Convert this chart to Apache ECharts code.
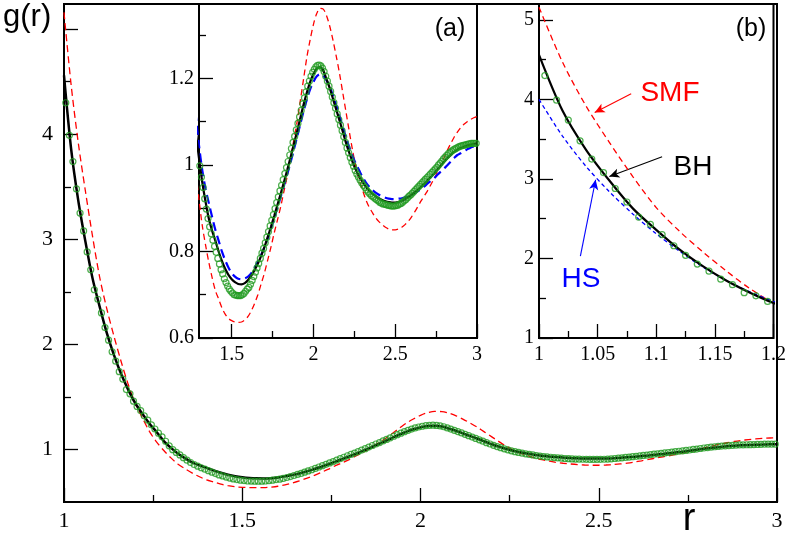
<!DOCTYPE html>
<html>
<head>
<meta charset="utf-8">
<script src="https://cdn.jsdelivr.net/npm/echarts@6/dist/echarts.min.js"></script>
<title>g(r)</title>
<style>html,body{margin:0;padding:0;background:#fff}</style>
</head>
<body>
<div id="chart" style="width:789px;height:535px;"></div>
<script>
// r grid of the curves (step 0.02) and of the simulation points (step 0.01)
var rLine = [];
for (var i = 0; i <= 100; i++) rLine.push(+(1 + i * 0.02).toFixed(2));
var rDots = [];
for (var j = 0; j < 200; j++) rDots.push(+(1.005 + j * 0.01).toFixed(3));

// BH (black solid)
var gBH = [4.56,3.86,3.37,2.98,2.63,2.36,2.11,1.90,1.72,1.57,
  1.44,1.34,1.245,1.165,1.08,1.015,0.96,0.915,0.876,0.848,
  0.825,0.80,0.778,0.76,0.746,0.736,0.729,0.725,0.724,0.727,
  0.734,0.744,0.757,0.772,0.79,0.81,0.833,0.857,0.882,0.908,
  0.934,0.961,0.989,1.018,1.048,1.078,1.109,1.14,1.168,1.192,
  1.21,1.223,1.226,1.218,1.198,1.177,1.152,1.127,1.102,1.076,
  1.05,1.027,1.006,0.988,0.973,0.961,0.95,0.941,0.934,0.928,
  0.923,0.919,0.916,0.914,0.913,0.913,0.914,0.917,0.921,0.926,
  0.931,0.937,0.943,0.95,0.957,0.965,0.973,0.981,0.99,0.999,
  1.008,1.016,1.023,1.03,1.035,1.039,1.042,1.045,1.047,1.049,
  1.05];
// SMF (red dashed)
var gSMF = [5.16,4.47,3.92,3.46,3.03,2.64,2.34,2.08,1.84,1.62,
  1.44,1.30,1.17,1.07,0.99,0.92,0.86,0.815,0.775,0.74,
  0.71,0.69,0.67,0.655,0.645,0.64,0.637,0.636,0.637,0.642,
  0.65,0.663,0.68,0.70,0.725,0.75,0.78,0.81,0.843,0.873,
  0.904,0.94,0.975,1.015,1.058,1.10,1.15,1.20,1.25,1.29,
  1.325,1.35,1.362,1.36,1.345,1.32,1.287,1.25,1.21,1.165,
  1.12,1.075,1.032,0.995,0.965,0.942,0.92,0.903,0.89,0.878,
  0.869,0.862,0.856,0.852,0.85,0.85,0.852,0.856,0.862,0.87,
  0.88,0.892,0.905,0.918,0.93,0.942,0.956,0.97,0.985,1.0,
  1.018,1.035,1.05,1.064,1.076,1.086,1.094,1.10,1.105,1.109,
  1.112];
// HS (blue dashed)
var gHS = [4.00,3.54,3.16,2.84,2.56,2.31,2.09,1.89,1.72,1.58,
  1.46,1.36,1.27,1.19,1.115,1.045,0.988,0.945,0.912,0.88,
  0.85,0.825,0.80,0.78,0.763,0.75,0.742,0.737,0.736,0.738,
  0.742,0.75,0.762,0.776,0.792,0.81,0.83,0.853,0.877,0.902,
  0.927,0.953,0.979,1.006,1.035,1.065,1.095,1.125,1.152,1.175,
  1.192,1.205,1.21,1.207,1.195,1.18,1.16,1.137,1.112,1.087,
  1.062,1.04,1.02,1.002,0.987,0.972,0.96,0.95,0.942,0.936,
  0.931,0.927,0.924,0.922,0.921,0.921,0.922,0.923,0.925,0.928,
  0.931,0.935,0.94,0.945,0.951,0.958,0.964,0.97,0.978,0.985,
  0.992,1.0,1.008,1.016,1.023,1.027,1.032,1.036,1.04,1.043,
  1.046];
// simulation (green circles)
var gMD = [4.30,3.99,3.74,3.48,3.25,3.08,2.88,2.71,2.52,2.43,
  2.30,2.16,2.04,1.93,1.84,1.74,1.67,1.57,1.53,1.46,
  1.41,1.37,1.32,1.28,1.235,1.195,1.155,1.12,1.078,1.035,
  0.998,0.972,0.948,0.922,0.898,0.876,0.857,0.841,0.826,0.812,
  0.798,0.784,0.771,0.758,0.748,0.737,0.728,0.72,0.713,0.708,
  0.704,0.70,0.699,0.698,0.698,0.698,0.70,0.703,0.708,0.713,
  0.717,0.724,0.733,0.742,0.752,0.762,0.772,0.784,0.796,0.807,
  0.82,0.833,0.846,0.859,0.872,0.885,0.899,0.913,0.926,0.94,
  0.953,0.966,0.98,0.994,1.008,1.023,1.038,1.052,1.066,1.081,
  1.096,1.111,1.126,1.141,1.155,1.169,1.182,1.194,1.205,1.214,
  1.221,1.227,1.23,1.231,1.229,1.224,1.216,1.205,1.194,1.182,
  1.17,1.157,1.144,1.131,1.118,1.105,1.092,1.079,1.065,1.052,
  1.039,1.028,1.017,1.006,0.997,0.987,0.979,0.972,0.965,0.959,
  0.953,0.948,0.942,0.937,0.933,0.929,0.926,0.923,0.92,0.917,
  0.914,0.912,0.91,0.909,0.908,0.907,0.906,0.905,0.905,0.905,
  0.906,0.907,0.909,0.911,0.914,0.917,0.92,0.924,0.928,0.931,
  0.935,0.939,0.943,0.947,0.951,0.955,0.959,0.963,0.967,0.971,
  0.975,0.979,0.983,0.987,0.991,0.995,1.0,1.004,1.009,1.014,
  1.018,1.022,1.026,1.029,1.032,1.035,1.037,1.039,1.041,1.043,
  1.044,1.045,1.046,1.047,1.048,1.049,1.05,1.05,1.05,1.05];

// ticks
var mainXMajor = [1, 1.5, 2, 2.5, 3], mainXMinor = [1.25, 1.75, 2.25, 2.75];
var mainYMajor = [1, 2, 3, 4, 5], mainYLabels = [1, 2, 3, 4], mainYMinor = [1.5, 2.5, 3.5, 4.5];
var aXMajor = [1.5, 2, 2.5, 3], aXMinor = [1.75, 2.25, 2.75];
var aYMajor = [0.6, 0.8, 1, 1.2], aYMinor = [0.7, 0.9, 1.1, 1.3];
var bXMajor = [1, 1.05, 1.1, 1.15, 1.2], bXMinor = [1.025, 1.075, 1.125, 1.175];
var bYMajor = [1, 2, 3, 4, 5], bYMinor = [1.5, 2.5, 3.5, 4.5];

var GREEN = '#1f9a1f';
var SERIF = '"Liberation Serif", "Times New Roman", serif';
var SANS = '"Liberation Sans", Arial, sans-serif';

function pairs(xs, ys) { return xs.map(function (x, k) { return [x, ys[k]]; }); }
var md = pairs(rDots, gMD), bh = pairs(rLine, gBH), smf = pairs(rLine, gSMF), hs = pairs(rLine, gHS);

function axes(pos, grid, min, max, major, labels, minor, fontSize, margin, z) {
  var tickStyle = { color: '#000', width: 1.3 };
  var base = { type: 'value', gridIndex: grid, position: pos, min: min, max: max, z: z,
    axisLine: { show: false }, splitLine: { show: false } };
  return [
    Object.assign({}, base, {
      axisTick: { inside: true, length: 14, customValues: major, lineStyle: tickStyle },
      axisLabel: { customValues: labels, fontFamily: SERIF, fontSize: fontSize,
        color: '#000', margin: margin, formatter: function (v) { return String(+v.toFixed(3)); } }
    }),
    Object.assign({}, base, {
      axisTick: { inside: true, length: 7, customValues: minor, lineStyle: tickStyle },
      axisLabel: { show: false }
    })
  ];
}

var xAxes = [].concat(
  axes('bottom', 0, 1, 3, mainXMajor, mainXMajor, mainXMinor, 22, 8, 0),
  axes('bottom', 1, 1.3, 3, aXMajor, aXMajor, aXMinor, 20, 7, 6),
  axes('bottom', 2, 1, 1.2, bXMajor, bXMajor, bXMinor, 20, 7, 6)
);
var yAxes = [].concat(
  axes('left', 0, 0.5, 5.24, mainYMajor, mainYLabels, mainYMinor, 22, 11, 0),
  axes('left', 1, 0.6, 1.372, aYMajor, aYMajor, aYMinor, 20, 5, 6),
  axes('left', 2, 1, 5.2, bYMajor, bYMajor, bYMinor, 20, 5, 6)
);

function dots(ax, z) {
  return { type: 'scatter', xAxisIndex: ax, yAxisIndex: ax, data: md, z: z, symbol: 'circle', symbolSize: 6,
    itemStyle: { color: 'rgba(0,0,0,0)', borderColor: GREEN, borderWidth: 1.2 }, silent: true };
}
function curve(ax, data, color, width, dash, z) {
  return { type: 'line', xAxisIndex: ax, yAxisIndex: ax, data: data, z: z, symbol: 'none', smooth: 0.3,
    lineStyle: { color: color, width: width, type: dash }, silent: true };
}
function arrow(from, to, color) {
  return { silent: true, symbol: ['none', 'arrow'], symbolSize: [7, 10], label: { show: false },
    lineStyle: { color: color, width: 1.1, type: 'solid' },
    data: [[{ coord: from }, { coord: to }]] };
}

var sSMFb = curve(4, smf, '#ff0000', 1.3, [6, 4], 7);
sSMFb.markLine = arrow([1.0786, 4.07], [1.0475, 3.835], '#ff0000');
var sHSb = curve(4, hs, '#0000ff', 1.3, [4, 3], 7);
sHSb.markLine = arrow([1.0353, 2.03], [1.0483, 2.99], '#0000ff');
var sBHb = curve(4, bh, '#000', 2.2, 'solid', 7);
sBHb.markLine = arrow([1.105, 3.28], [1.060, 3.03], '#000');

function label(text, x, y, size, color, align) {
  return { type: 'text', x: x, y: y, z: 20,
    style: { text: text, font: size + 'px ' + SANS, fill: color, textAlign: align || 'center', textVerticalAlign: 'middle' } };
}

var chart = echarts.init(document.getElementById('chart'));
chart.setOption({
  animation: false,
  backgroundColor: '#fff',
  grid: [
    { left: 64, top: 4, right: 12, bottom: 33, show: true, borderColor: '#000', borderWidth: 2, z: 0 },
    { left: 199, top: 4, width: 278, height: 334, show: true, backgroundColor: '#fff', borderColor: '#000', borderWidth: 2, z: 4 },
    { left: 539, top: 4, width: 236, height: 334, show: true, backgroundColor: '#fff', borderColor: '#000', borderWidth: 2, z: 4 }
  ],
  xAxis: xAxes,
  yAxis: yAxes,
  series: [
    dots(0, 2),
    curve(0, smf, '#ff0000', 1.3, [7, 4], 2),
    curve(0, bh, '#000', 2.5, 'solid', 2),
    dots(2, 7),
    curve(2, smf, '#ff0000', 1.3, [6, 4], 7),
    curve(2, hs, '#0000ff', 2.2, [9, 5], 7),
    curve(2, bh, '#000', 2.2, 'solid', 7),
    dots(4, 7),
    sSMFb,
    sHSb,
    sBHb
  ],
  graphic: [
    label('g(r)', 3, 17, 31, '#000', 'left'),
    label('r', 689, 520, 38, '#000'),
    label('(a)', 450, 29, 25, '#000'),
    label('(b)', 751, 29, 25, '#000'),
    label('SMF', 670, 93, 28, '#ff0000'),
    label('BH', 693, 167, 28, '#000'),
    label('HS', 581, 279, 28, '#0000ff')
  ]
});
</script>
</body>
</html>
